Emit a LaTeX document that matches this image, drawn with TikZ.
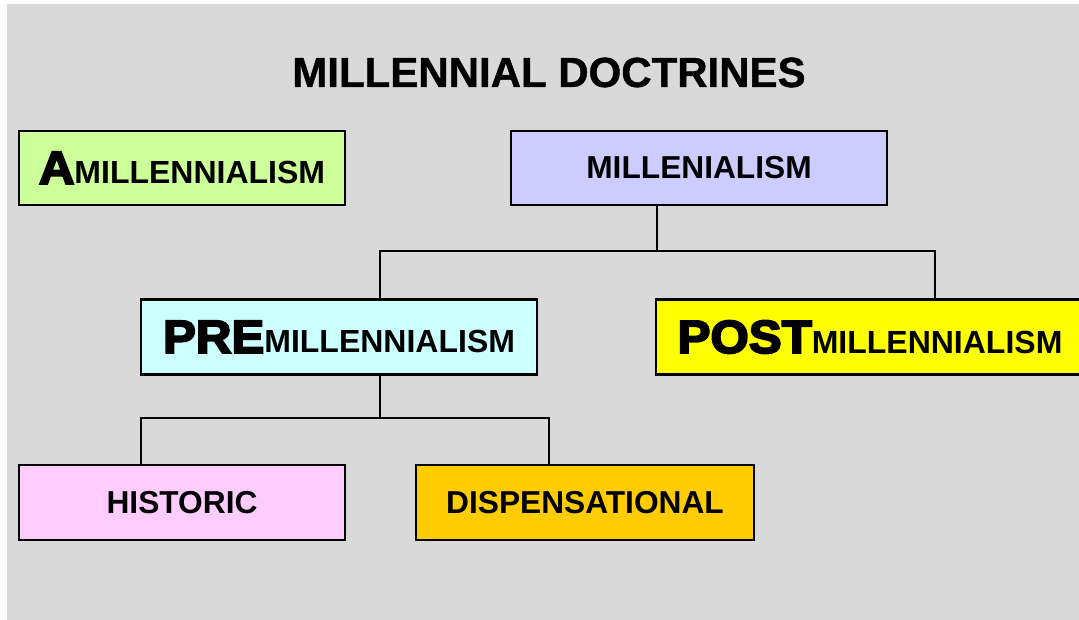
\documentclass[tikz,border=0pt]{standalone}
\usepackage{fontspec}
\usepackage{graphicx}
\setmainfont{Liberation Sans}
\newfontfamily\heavyfont{Liberation Sans Bold}[FakeBold=4]
\newfontfamily\titlefont{Liberation Sans Bold}[FakeBold=1]

\definecolor{panel}{HTML}{D9D9D9}
\definecolor{amicol}{HTML}{CCFF99}
\definecolor{milcol}{HTML}{CCCCFF}
\definecolor{precol}{HTML}{CCFFFF}
\definecolor{postcol}{HTML}{FFFF00}
\definecolor{hiscol}{HTML}{FFCCFF}
\definecolor{discol}{HTML}{FFCC00}

% big heavy prefix followed by a smaller tail
\newcommand{\bigpart}[1]{\scalebox{1.06}[1]{\heavyfont\fontsize{46.5}{50}\selectfont #1}}
\newcommand{\tailpart}[1]{{\fontsize{32}{36}\selectfont\bfseries #1}}

\begin{document}
\begin{tikzpicture}[x=1pt,y=-1pt,
  box/.style={draw=black, line width=2.2pt, inner sep=0pt, align=center,
    font=\fontsize{31.7}{36}\selectfont\bfseries},
  conn/.style={draw=black, line width=1.8pt}]
  \useasboundingbox (0,0) rectangle (1079,620);
  \begin{scope}
    \clip (0,0) rectangle (1079,620);
    \fill[panel] (7,4) rectangle (1090,630);

    \node[font=\titlefont\fontsize{42}{48}\selectfont] (title) at (549,72.5) {MILLENNIAL DOCTRINES};

    \node[box, fill=amicol, minimum width=326pt, minimum height=74pt] (ami) at (182,168)
      {\bigpart{A}\tailpart{MILLENNIALISM}};
    \node[box, fill=milcol, minimum width=376pt, minimum height=74pt] (mil) at (699,168)
      {MILLENIALISM};
    \node[box, fill=precol, minimum width=396pt, minimum height=75pt] (pre) at (339,337)
      {\bigpart{PRE}\tailpart{MILLENNIALISM}};
    \node[box, fill=postcol, minimum width=428pt, minimum height=75pt] (post) at (870,337)
      {\bigpart{POST}\tailpart{MILLENNIALISM}};
    \node[box, fill=hiscol, minimum width=326pt, minimum height=75pt] (his) at (182,502.5)
      {HISTORIC};
    \node[box, fill=discol, minimum width=338pt, minimum height=75pt] (dis) at (585,502.5)
      {DISPENSATIONAL};

    % branch points of the tree
    \coordinate (j1) at (657,251);
    \coordinate (j2) at (380,418);
    \coordinate (xpost) at (935,0);
    \coordinate (xhis) at (141,0);
    \coordinate (xdis) at (549,0);

    \draw[conn] (mil.south -| j1) -- (j1);
    \draw[conn] (pre.north -| j2) |- (j1) -| (post.north -| xpost);
    \draw[conn] (pre.south -| j2) -- (j2);
    \draw[conn] (his.north -| xhis) |- (j2) -| (dis.north -| xdis);
  \end{scope}
\end{tikzpicture}
\end{document}
